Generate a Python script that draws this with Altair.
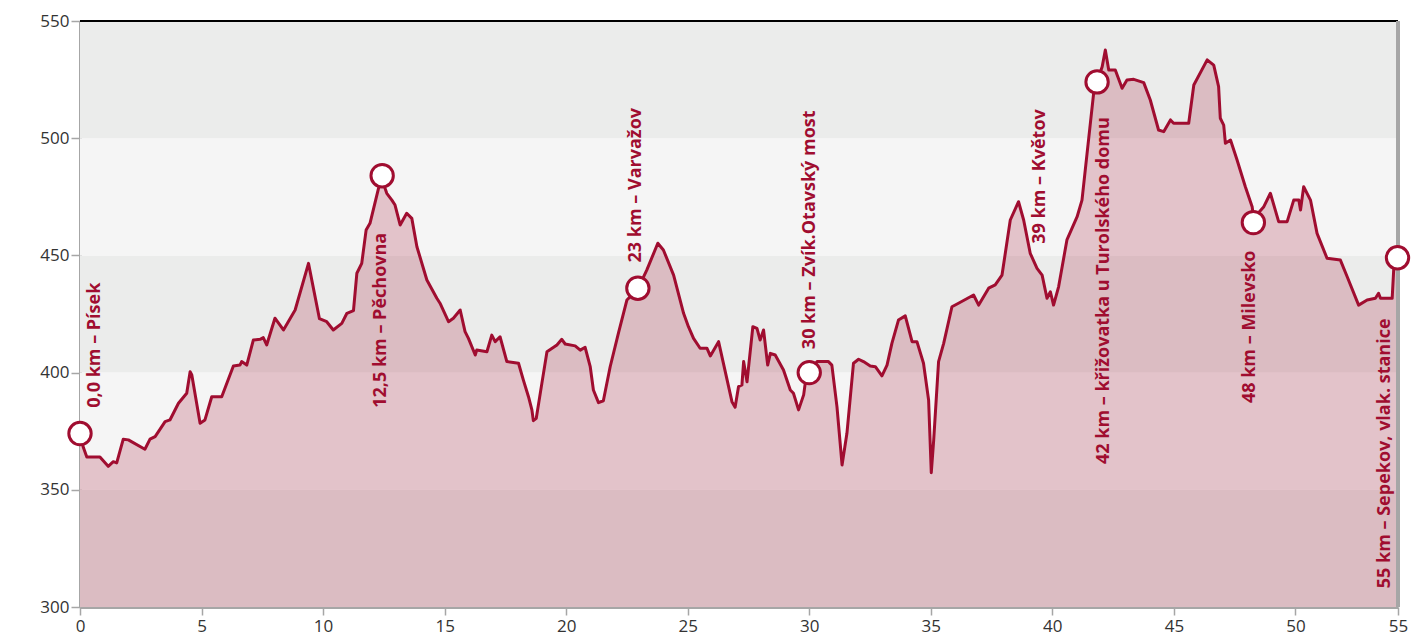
import altair as alt
import pandas as pd

# Elevation profile (km, m a.s.l.)
km = [0.00, 0.14, 0.28, 0.82, 1.16, 1.37, 1.51, 1.78, 1.99, 2.67, 2.88, 3.09, 3.50, 3.70, 4.05, 4.39, 4.53, 4.60,
      4.94, 5.14, 5.42, 5.83, 6.31, 6.58, 6.65, 6.86, 7.13, 7.41, 7.54, 7.68, 8.02, 8.37, 8.85, 9.40, 9.85,
      10.15, 10.42, 10.77, 10.98, 11.25, 11.39, 11.59, 11.77, 11.93, 12.28, 12.43, 12.62, 12.83, 12.96, 13.17,
      13.44, 13.65, 13.86, 14.27, 14.68, 14.81, 15.16, 15.36, 15.64, 15.84, 15.98, 16.26, 16.32, 16.74, 16.94,
      17.08, 17.28, 17.56, 18.04, 18.24, 18.45, 18.59, 18.65, 18.77, 19.00, 19.21, 19.62, 19.82, 19.96, 20.37,
      20.58, 20.78, 20.99, 21.12, 21.33, 21.53, 21.81, 22.15, 22.50, 22.95, 23.32, 23.77, 24.00, 24.42, 24.83,
      25.03, 25.24, 25.51, 25.79, 25.93, 26.27, 26.82, 26.95, 27.09, 27.23, 27.30, 27.44, 27.68, 27.85, 27.98,
      28.12, 28.29, 28.40, 28.60, 28.94, 29.22, 29.35, 29.56, 29.77, 29.88, 30.00, 30.32, 30.79, 30.93, 31.14,
      31.35, 31.55, 31.82, 32.03, 32.23, 32.51, 32.72, 32.99, 33.20, 33.40, 33.67, 33.95, 34.23, 34.43, 34.70,
      34.91, 35.02, 35.12, 35.32, 35.53, 35.87, 36.14, 36.76, 36.97, 37.38, 37.65, 37.93, 38.27, 38.61, 38.82,
      39.09, 39.37, 39.58, 39.78, 39.92, 40.05, 40.26, 40.60, 41.02, 41.22, 41.43, 41.70, 41.84, 42.05, 42.18,
      42.32, 42.59, 42.87, 43.07, 43.35, 43.76, 44.03, 44.37, 44.58, 44.86, 44.99, 45.61, 45.82, 46.37, 46.64,
      46.84, 46.91, 47.05, 47.12, 47.33, 47.60, 47.94, 48.22, 48.28, 48.70, 48.97, 49.31, 49.66, 49.93, 50.14,
      50.21, 50.34, 50.62, 50.89, 51.30, 51.85, 52.13, 52.60, 52.95, 53.29, 53.42, 53.50, 53.98, 54.05, 54.20]
elevation = [374, 368, 364, 364, 360, 362, 361.5, 371.6, 371.3, 367.3, 371.6, 372.7, 379.1, 379.8, 386.9, 391.2,
             400.4, 399, 378.4, 379.8, 389.7, 389.7, 402.8, 403.2, 404.7, 403.2, 413.9, 414.2, 414.9, 411.8,
             423.2, 418.2, 426.7, 446.6, 423, 421.7, 418.2, 421, 425.3, 426.4, 442.4, 446.6, 460.8, 463.7,
             478.6, 482.2, 476.5, 473.6, 471.5, 463, 468, 465.8, 453.7, 439.5, 431.7, 429.6, 421.7, 423.2,
             426.7, 417.5, 414.6, 407.5, 409.6, 408.9, 416, 413.2, 415.3, 404.7, 404, 396.8, 389.7, 384.1,
             379.5, 380.5, 395.4, 408.9, 411.8, 414.2, 412.2, 411.4, 409.6, 410.8, 402.5, 392.6, 387.2, 388,
             402.5, 416.8, 431, 435.7, 443.8, 455.2, 452.3, 441.6, 425.3, 419.6, 414.6, 410.4, 410.4, 407.1,
             413.2, 387.6, 385.2, 394, 394.7, 404.7, 396.1, 419.6, 418.9, 413.9, 418.2, 403.2, 408.2, 407.5,
             401.1, 392.6, 391.2, 384.1, 390.5, 399, 400.3, 404.7, 404.7, 403.2, 385.5, 360.6, 374.1, 404,
             405.7, 404.7, 402.8, 402.5, 398.6, 403.2, 412.5, 422.4, 424.2, 413.2, 413.2, 404, 388.3, 357.3,
             371.3, 404.7, 412.5, 428.1, 429.6, 433.1, 428.8, 436, 437.4, 441.6, 465.1, 472.9, 465.1, 450.9,
             444.5, 441.6, 431.7, 434.5, 428.8, 436.7, 456.6, 466.5, 473.6, 493.6, 519.2, 524.1, 530.5, 537.6,
             529.1, 529.1, 521.3, 524.8, 525.1, 523.7, 516.3, 503.5, 502.8, 507.8, 506.4, 506.4, 522.7, 533.4,
             531.2, 522, 508.5, 505.6, 497.8, 499.2, 490.7, 479.3, 470.8, 465.8, 470.8, 476.5, 464.4, 464.4,
             473.6, 473.6, 469.4, 479.3, 473.6, 459.4, 448.8, 448, 440.9, 428.8, 431, 431.7, 433.8, 431.7,
             431.7, 445.2, 448.9]

# Waypoint markers
marker_km = [0.0, 12.43, 22.95, 30.0, 41.84, 48.27, 54.2]
marker_elev = [374, 484, 436, 400, 524, 464, 449]

# Waypoint labels (vertical text)
label_text = ["0,0 km – Písek", "12,5 km – Pěchovna", "23 km – Varvažov", "30 km – Zvík.Otavský most",
              "39 km – Květov", "42 km –  křižovatka u Turolského domu", "48 km – Milevsko",
              "55 km – Sepekov, vlak. stanice"]
label_km = [0.62, 12.39, 22.88, 30.04, 39.5, 42.14, 48.15, 53.7]
label_elev = [385, 385, 447, 410, 455, 361, 387, 308]

# Background bands
band_lo = [300, 350, 400, 450, 500]
band_hi = [350, 400, 450, 500, 550]
band_shade = ["dark", "light", "dark", "light", "dark"]

x_ticks = [0, 5, 10, 15, 20, 25, 30, 35, 40, 45, 50, 54.22]
y_ticks = [300, 350, 400, 450, 500, 550]

RED = "#a00d30"
X_MAX = 54.22

profile = pd.DataFrame({"km": km, "elev": elevation})
markers = pd.DataFrame({"km": marker_km, "elev": marker_elev})
labels = pd.DataFrame({"km": label_km, "elev": label_elev, "text": label_text})
bands = pd.DataFrame({"lo": band_lo, "hi": band_hi, "shade": band_shade})

xscale = alt.Scale(domain=[0, X_MAX], nice=False, zero=False)
yscale = alt.Scale(domain=[300, 550], nice=False, zero=False)

xaxis = alt.Axis(values=x_ticks, title=None, tickSize=8, labelPadding=3, labelFlush=False,
                 labelExpr="datum.value > 54 ? '55' : format(datum.value, 'd')")
yaxis = alt.Axis(values=y_ticks, title=None, tickSize=9, labelPadding=2, labelFlush=False)

band_layer = alt.Chart(bands).mark_rect().encode(
    x=alt.value(0), x2=alt.value(1318),
    y=alt.Y("lo:Q", scale=yscale, axis=yaxis),
    y2="hi:Q",
    color=alt.Color("shade:N", scale=alt.Scale(domain=["dark", "light"], range=["#ebeceb", "#f5f5f5"]),
                    legend=None),
)

area = alt.Chart(profile).mark_area(color=RED, opacity=0.215).encode(
    x=alt.X("km:Q", scale=xscale, axis=xaxis),
    y=alt.Y("elev:Q", scale=yscale),
    y2=alt.datum(300),
)

line = alt.Chart(profile).mark_line(color=RED, strokeWidth=3, strokeJoin="round").encode(
    x=alt.X("km:Q", scale=xscale),
    y=alt.Y("elev:Q", scale=yscale),
)

top_rule = alt.Chart(profile).mark_rule(color="#000000", strokeWidth=1.2).encode(
    y=alt.datum(550), x=alt.value(0), x2=alt.value(1318)
)
right_rule = alt.Chart(profile).mark_rule(color="#a6a6a6", strokeWidth=3).encode(
    x=alt.datum(X_MAX), y=alt.value(0), y2=alt.value(586)
)

points = alt.Chart(markers).mark_point(shape="circle", filled=True, fill="white", stroke=RED,
                                       strokeWidth=3, size=500, opacity=1).encode(
    x=alt.X("km:Q", scale=xscale),
    y=alt.Y("elev:Q", scale=yscale),
)

texts = alt.Chart(labels).mark_text(angle=270, align="left", baseline="middle", font="Open Sans",
                                    fontWeight="bold", fontSize=18, color=RED).encode(
    x=alt.X("km:Q", scale=xscale),
    y=alt.Y("elev:Q", scale=yscale),
    text="text:N",
)

chart = alt.layer(band_layer, area, line, top_rule, right_rule, points, texts).properties(
    width=1318, height=586,
    padding={"left": 72, "top": 13, "right": 13, "bottom": 30},
    autosize=alt.AutoSizeParams(type="none"),
).configure_axis(
    domainColor="#a6a6a6", domainWidth=3, tickColor="#a6a6a6", tickWidth=1.5,
    labelFont="Open Sans", labelFontSize=17, labelColor="#333333", grid=False,
).configure_view(stroke=None)

chart.save("out.html", embed_options={"renderer": "svg", "actions": False})
